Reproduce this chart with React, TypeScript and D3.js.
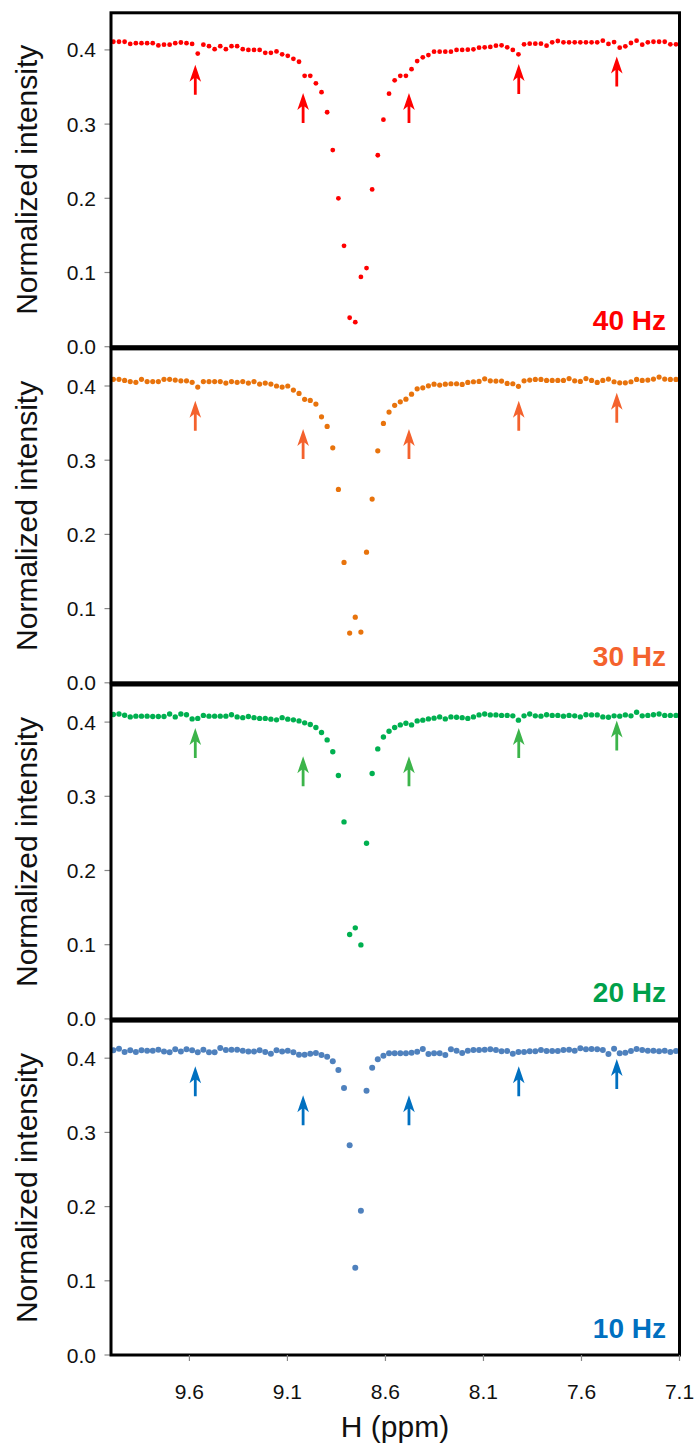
import React from "react";
import * as d3 from "d3";

// sampling grid of the spectra (ppm)
const ppmStart = 9.988;
const ppmStep = 0.0287;

const hz40 = [
  0.411, 0.411, 0.411, 0.408, 0.409, 0.409, 0.409, 0.409, 0.406, 0.407,
  0.407, 0.409, 0.41, 0.409, 0.408, 0.395, 0.407, 0.405, 0.401, 0.405,
  0.401, 0.405, 0.405, 0.401, 0.4, 0.4, 0.4, 0.396, 0.396, 0.398,
  0.394, 0.392, 0.388, 0.384, 0.365, 0.365, 0.355, 0.343, 0.316, 0.265,
  0.2, 0.136, 0.039, 0.033, 0.094, 0.106, 0.212, 0.258, 0.306, 0.341,
  0.359, 0.365, 0.365, 0.374, 0.385, 0.39, 0.393, 0.3976, 0.3976, 0.3976,
  0.3976, 0.4, 0.4, 0.4003, 0.4008, 0.403, 0.4035, 0.404, 0.4057, 0.4062,
  0.4035, 0.4, 0.394, 0.4075, 0.4084, 0.4084, 0.4084, 0.4057, 0.4102, 0.412,
  0.4102, 0.4102, 0.4102, 0.4102, 0.4102, 0.4102, 0.4102, 0.4124, 0.408, 0.4106,
  0.403, 0.4048, 0.4093, 0.4124, 0.407, 0.4102, 0.411, 0.411, 0.411, 0.4075,
  0.4075,
];

const hz30 = [
  0.409, 0.409, 0.4075, 0.406, 0.405, 0.409, 0.406, 0.406, 0.406, 0.409,
  0.409, 0.408, 0.407, 0.407, 0.405, 0.3985, 0.406, 0.406, 0.406, 0.406,
  0.404, 0.406, 0.405, 0.406, 0.404, 0.406, 0.4026, 0.404, 0.4026, 0.4,
  0.3985, 0.4, 0.3945, 0.39, 0.382, 0.3806, 0.3756, 0.3585, 0.3455, 0.3167,
  0.2606, 0.1622, 0.067, 0.0885, 0.0683, 0.176, 0.2476, 0.3127, 0.3496, 0.3648,
  0.374, 0.3787, 0.3823, 0.389, 0.3962, 0.3976, 0.4003, 0.4025, 0.4012, 0.4025,
  0.403, 0.403, 0.4021, 0.4048, 0.4057, 0.4062, 0.4097, 0.407, 0.4066, 0.4066,
  0.4035, 0.403, 0.3995, 0.407, 0.408, 0.4089, 0.4089, 0.4075, 0.4075, 0.4075,
  0.4075, 0.41, 0.407, 0.4062, 0.41, 0.4075, 0.4048, 0.4075, 0.4093, 0.4057,
  0.4043, 0.4043, 0.4057, 0.4089, 0.4075, 0.408, 0.4093, 0.412, 0.4093, 0.4089,
  0.4089,
];

const hz20 = [
  0.4102, 0.411, 0.4093, 0.407, 0.408, 0.408, 0.408, 0.4075, 0.4075, 0.4075,
  0.411, 0.407, 0.411, 0.41, 0.4043, 0.405, 0.409, 0.408, 0.408, 0.408,
  0.408, 0.41, 0.407, 0.406, 0.4075, 0.406, 0.405, 0.405, 0.404, 0.403,
  0.406, 0.404, 0.403, 0.4016, 0.399, 0.3967, 0.3927, 0.386, 0.376, 0.36,
  0.328, 0.2655, 0.1137, 0.1227, 0.0997, 0.2368, 0.3307, 0.3639, 0.38, 0.3877,
  0.3927, 0.3962, 0.3985, 0.3962, 0.4016, 0.4026, 0.4043, 0.4053, 0.407, 0.4043,
  0.407, 0.4066, 0.406, 0.405, 0.407, 0.4097, 0.411, 0.4097, 0.4097, 0.409,
  0.409, 0.4084, 0.4026, 0.4084, 0.411, 0.4084, 0.408, 0.41, 0.409, 0.409,
  0.408, 0.409, 0.4084, 0.407, 0.41, 0.4097, 0.4097, 0.407, 0.4066, 0.4084,
  0.408, 0.4097, 0.4084, 0.4133, 0.4084, 0.409, 0.41, 0.411, 0.409, 0.409,
  0.409,
];

const hz10 = [
  0.4106, 0.4128, 0.4084, 0.4106, 0.4084, 0.4106, 0.41, 0.41, 0.4115, 0.409,
  0.408, 0.412, 0.409, 0.412, 0.4106, 0.408, 0.4115, 0.408, 0.408, 0.4137,
  0.411, 0.4115, 0.4115, 0.41, 0.409, 0.409, 0.4106, 0.4084, 0.406, 0.4106,
  0.409, 0.41, 0.408, 0.4048, 0.4048, 0.406, 0.407, 0.4043, 0.402, 0.3958,
  0.384, 0.36, 0.2826, 0.1177, 0.1945, 0.3562, 0.3872, 0.3985, 0.4034, 0.4066,
  0.4066, 0.4066, 0.4066, 0.4075, 0.4088, 0.4124, 0.4057, 0.4066, 0.4066, 0.4043,
  0.412, 0.4102, 0.407, 0.4102, 0.411, 0.411, 0.4115, 0.412, 0.411, 0.4093,
  0.4097, 0.4061, 0.4084, 0.4084, 0.4093, 0.4093, 0.411, 0.4097, 0.4097, 0.4097,
  0.411, 0.4115, 0.4102, 0.4133, 0.412, 0.4124, 0.412, 0.411, 0.4057, 0.4128,
  0.4066, 0.4075, 0.4097, 0.4124, 0.411, 0.4102, 0.4102, 0.4093, 0.4102, 0.4084,
  0.4097,
];

// arrows: positions (ppm) and tip heights per panel
const arrowPpm = [9.57, 9.02, 8.48, 7.92, 7.42];
const arrows40 = [0.38, 0.342, 0.342, 0.381, 0.391];
const arrows30 = [0.38, 0.342, 0.342, 0.38, 0.391];
const arrows20 = [0.392, 0.354, 0.354, 0.392, 0.402];
const arrows10 = [0.389, 0.35, 0.35, 0.389, 0.399];

const panelLabels = ["40 Hz", "30 Hz", "20 Hz", "10 Hz"];
const dotColors = ["#ff0000", "#e8730c", "#00b050", "#4f81bd"];
const arrowColors = ["#ff0000", "#f4622d", "#3cb44a", "#0070c0"];
const labelColors = ["#ff0000", "#f4622d", "#00a04a", "#0070c0"];
const dotRadius = [2.4, 2.6, 2.7, 3.0];

const xTicks = [9.6, 9.1, 8.6, 8.1, 7.6, 7.1];
const yTicks = [0, 0.1, 0.2, 0.3, 0.4];

const font = "'Liberation Sans', Arial, sans-serif";

export default function App() {
  const width = 697;
  const height = 1447;
  const left = 111;
  const right = 679.5;
  const firstZero = 346.7;
  const panelStep = 336.1;
  const panelH = 333.9;

  const x = d3.scaleLinear().domain([10.0, 7.1]).range([left, right]);
  const ppm = d3.range(hz40.length).map((i) => ppmStart - i * ppmStep);

  const series = [hz40, hz30, hz20, hz10];
  const arrowTips = [arrows40, arrows30, arrows20, arrows10];

  const arrowPath = (cx: number, ty: number) => {
    const hl = 17, hw = 5.8, notch = 13.5, sw = 1.4, len = 30;
    return `M${cx},${ty} L${cx + hw},${ty + hl} L${cx + sw},${ty + notch} L${cx + sw},${ty + len} L${cx - sw},${ty + len} L${cx - sw},${ty + notch} L${cx - hw},${ty + hl} Z`;
  };

  const bottomZero = firstZero + panelStep * 3;

  return (
    <svg
      width={width}
      height={height}
      style={{ position: "absolute", left: 0, top: 0, background: "#fff" }}
      fontFamily={font}
    >
      {series.map((vals, p) => {
        const zero = firstZero + panelStep * p;
        const y = d3.scaleLinear().domain([0, 0.45]).range([zero, zero - panelH]);
        return (
          <g key={p}>
            {yTicks.map((t) => (
              <g key={t}>
                <line x1={104.5} x2={left} y1={y(t)} y2={y(t)} stroke="#888" strokeWidth={1.2} />
                <text x={96} y={y(t)} dy="0.36em" textAnchor="end" fontSize={21} fill="#111">
                  {t.toFixed(1)}
                </text>
              </g>
            ))}
            <text
              transform={`translate(36.5,${(y(0) + y(0.45)) / 2}) rotate(-90)`}
              textAnchor="middle"
              fontSize={30}
              fill="#111"
            >
              Normalized intensity
            </text>
            {vals.map((v, i) => (
              <circle key={i} cx={x(ppm[i])} cy={y(v)} r={dotRadius[p]} fill={dotColors[p]} />
            ))}
            {arrowPpm.map((a, i) => (
              <path key={i} d={arrowPath(x(a), y(arrowTips[p][i]))} fill={arrowColors[p]} />
            ))}
            <text
              x={666}
              y={zero - 17}
              textAnchor="end"
              fontSize={28}
              fontWeight="bold"
              fill={labelColors[p]}
            >
              {panelLabels[p]}
            </text>
            <rect
              x={left}
              y={y(0.45)}
              width={right - left}
              height={y(0) - y(0.45)}
              fill="none"
              stroke="#000"
              strokeWidth={3}
            />
          </g>
        );
      })}
      {xTicks.map((t) => (
        <g key={t}>
          <line x1={x(t)} x2={x(t)} y1={bottomZero} y2={bottomZero + 6} stroke="#888" strokeWidth={1.2} />
          <text x={x(t)} y={1399} textAnchor="middle" fontSize={21} fill="#111">
            {t.toFixed(1)}
          </text>
        </g>
      ))}
      <text x={395} y={1437} textAnchor="middle" fontSize={30} fill="#111">
        H (ppm)
      </text>
    </svg>
  );
}
